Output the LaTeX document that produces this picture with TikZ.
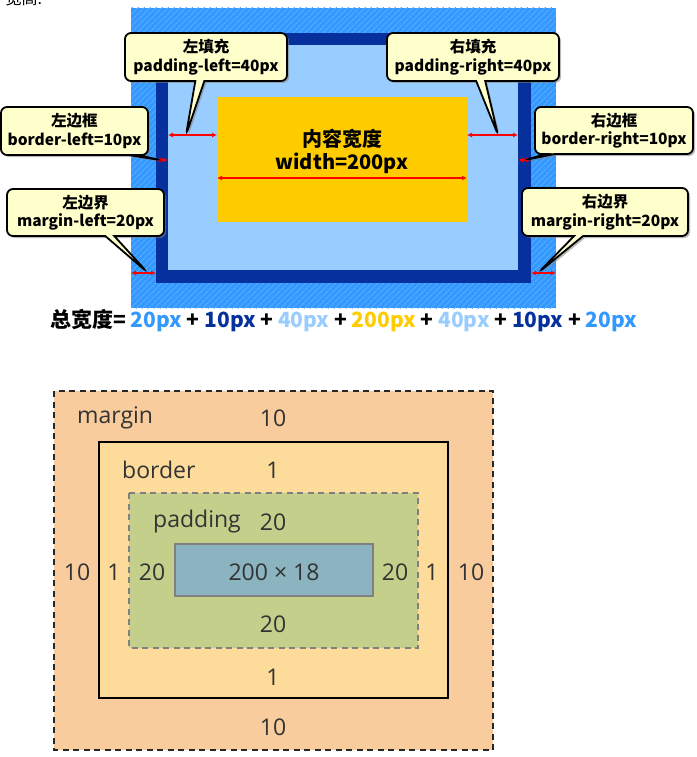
\documentclass[tikz,border=0pt]{standalone}
\usepackage{fontspec}
\setmainfont{Open Sans}
\newfontfamily\cjk{Noto Sans CJK SC}
\usetikzlibrary{shapes.callouts,shadows,patterns.meta,arrows.meta}

\definecolor{marginblue}{HTML}{3399FF}
\definecolor{hatchblue}{HTML}{5CADFF}
\definecolor{borderblue}{HTML}{06319C}
\definecolor{paddingblue}{HTML}{99CCFF}
\definecolor{contentgold}{HTML}{FFCC00}
\definecolor{tipyellow}{HTML}{FFFFCC}
\definecolor{boxmargin}{HTML}{F9CC9D}
\definecolor{boxborder}{HTML}{FDDC9B}
\definecolor{boxpadding}{HTML}{C3CF8A}
\definecolor{boxcontent}{HTML}{8CB4C0}
\definecolor{boxtext}{HTML}{333333}

\tikzset{
  tip/.style={rectangle callout, draw=black, line width=1.8pt, fill=tipyellow,
    rounded corners=6pt, align=center, inner sep=0pt,
    font=\cjk\bfseries\fontsize{15.5}{18.5}\selectfont,
    callout pointer width=9pt,
    drop shadow={shadow xshift=2pt, shadow yshift=-2pt, opacity=.55}},
  redarrow/.style={draw=red, line width=1.2pt, {Latex[length=5pt,width=5pt]}-{Latex[length=5pt,width=5pt]}},
  sizelabel/.style={text=boxtext, font=\fontsize{23}{23}\selectfont, inner sep=0pt},
  sumpart/.style={font=\cjk\bfseries\fontsize{21}{21}\selectfont}
}

\begin{document}
\begin{tikzpicture}[x=1pt,y=-1pt]
  \useasboundingbox (0,0) rectangle (696,757);

  %%%%% top: box model with widths %%%%%
  \node[anchor=base west, font=\cjk\fontsize{16}{16}\selectfont] (cut) at (2,5) {宽高:};

  \fill[marginblue] (131,8) rectangle (556,308);
  \fill[pattern={Lines[angle=45,distance=4pt,line width=1pt]}, pattern color=hatchblue] (131,8) rectangle (556,308);
  \fill[borderblue] (156,33) rectangle (531,283);
  \fill[paddingblue] (168,45) rectangle (518,270);
  \fill[contentgold] (217,97) rectangle (467,222);

  \node[font=\cjk\bfseries\fontsize{20}{23}\selectfont, align=center] (content) at (342,151) {内容宽度\\width=200px};

  % arrow ends
  \coordinate (ml1) at (131,273); \coordinate (ml2) at (156,273);
  \coordinate (mr1) at (531,273); \coordinate (mr2) at (556,273);
  \coordinate (bl1) at (156,160); \coordinate (bl2) at (168,160);
  \coordinate (br1) at (518,160); \coordinate (br2) at (531,160);
  \coordinate (pl1) at (168,135); \coordinate (pl2) at (217,135);
  \coordinate (pr1) at (467,135); \coordinate (pr2) at (518,135);
  \coordinate (w1) at (217,178);  \coordinate (w2) at (467,178);

  \draw[redarrow] (ml1) -- (ml2);
  \draw[redarrow] (mr1) -- (mr2);
  \draw[redarrow] (bl1) -- (bl2);
  \draw[redarrow] (br1) -- (br2);
  \draw[redarrow] (pl1) -- (pl2);
  \draw[redarrow] (pr1) -- (pr2);
  \draw[redarrow] (w1) -- (w2);

  \node[tip, minimum width=162pt, minimum height=48pt, callout absolute pointer={(186,135)}] (padleft) at (206,57) {左填充\\padding-left=40px};
  \node[tip, minimum width=172pt, minimum height=48pt, callout absolute pointer={(498,135)}] (padright) at (473,57) {右填充\\padding-right=40px};
  \node[tip, minimum width=147pt, minimum height=48pt, callout absolute pointer={(160,160)}] (bordleft) at (74.5,131) {左边框\\border-left=10px};
  \node[tip, minimum width=158pt, minimum height=47pt, callout absolute pointer={(525,160)}] (bordright) at (614,130.5) {右边框\\border-right=10px};
  \node[tip, minimum width=157pt, minimum height=47pt, callout absolute pointer={(147,272)}] (margleft) at (85.5,212.5) {左边界\\margin-left=20px};
  \node[tip, minimum width=166pt, minimum height=48pt, callout absolute pointer={(539,272)}] (margright) at (605,212) {右边界\\margin-right=20px};

  \node[sumpart, anchor=west, inner sep=0pt] (total) at (50,321) {总宽度=
    \textcolor{marginblue}{20px} + \textcolor{borderblue}{10px} +
    \textcolor{paddingblue}{40px} + \textcolor{contentgold}{200px} +
    \textcolor{paddingblue}{40px} + \textcolor{borderblue}{10px} +
    \textcolor{marginblue}{20px}};

  %%%%% bottom: box model sizes %%%%%
  \draw[fill=boxmargin, draw=black!85, line width=2pt, dash pattern=on 6pt off 4.5pt] (54,391) rectangle (493,750);
  \draw[fill=boxborder, draw=black, line width=1.8pt] (99,442) rectangle (448,698);
  \draw[fill=boxpadding, draw=black!50, line width=1.6pt, dash pattern=on 6pt off 4.5pt] (129,493) rectangle (418,648);
  \draw[fill=boxcontent, draw=black!50, line width=1.6pt] (175,544) rectangle (373,596);

  \node[sizelabel, anchor=west] (lmargin) at (77,418) {margin};
  \node[sizelabel] (mtop) at (273,418) {10};
  \node[sizelabel, anchor=west] (lborder) at (122,470) {border};
  \node[sizelabel] (btop) at (273,470) {1};
  \node[sizelabel, anchor=west] (lpadding) at (153,522) {padding};
  \node[sizelabel] (ptop) at (273,522) {20};

  \node[sizelabel] (mleft) at (77,572) {10};
  \node[sizelabel] (bleft) at (114,572) {1};
  \node[sizelabel] (pleft) at (152,572) {20};
  \node[sizelabel] (csize) at (274,572) {200 × 18};
  \node[sizelabel] (pright) at (395,572) {20};
  \node[sizelabel] (bright) at (432,572) {1};
  \node[sizelabel] (mright) at (471,572) {10};

  \node[sizelabel] (pbot) at (273,624) {20};
  \node[sizelabel] (bbot) at (273,677) {1};
  \node[sizelabel] (mbot) at (273,727) {10};
\end{tikzpicture}
\end{document}
